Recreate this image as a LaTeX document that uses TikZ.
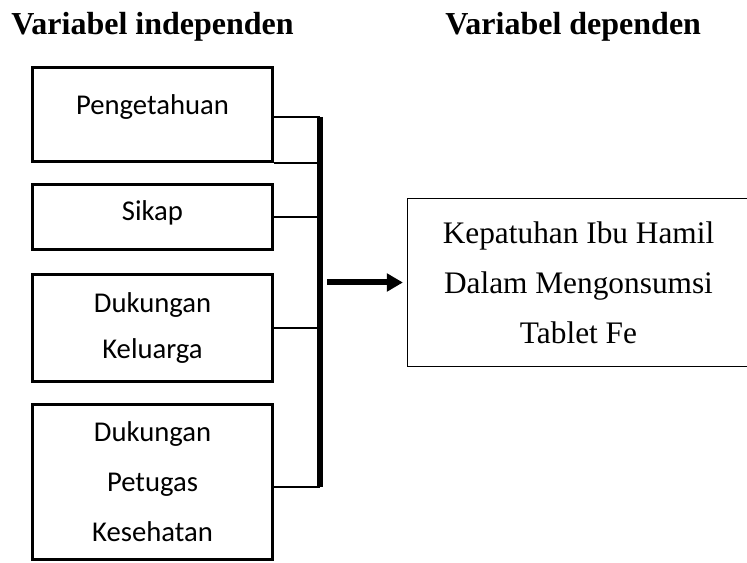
\documentclass[tikz,border=0pt]{standalone}
\usepackage{fontspec}
\setmainfont{Liberation Serif}
\newfontfamily\calibri{Carlito}
\usetikzlibrary{arrows.meta}
\begin{document}
\begin{tikzpicture}[x=0.75pt,y=-0.75pt,
 varbox/.style={draw,line width=2.5pt,inner sep=0pt,minimum width=180pt,align=center,font=\calibri\fontsize{21.5}{37.5}\selectfont},
 depbox/.style={draw,line width=0.9pt,inner sep=0pt,minimum width=256.5pt,minimum height=126pt,align=center,font=\fontsize{23.5}{37.5}\selectfont},
 judul/.style={inner sep=0pt,anchor=base west,font=\fontsize{24}{28}\selectfont\bfseries},
 conn/.style={line width=1pt},
 bar/.style={line width=5pt},
 panah/.style={line width=4.5pt,-{Triangle[length=12pt,width=13pt]},shorten <=5.25pt,shorten >=3pt}]
 \useasboundingbox (0,0) rectangle (747,563);
 \node[judul] (indep) at (11,35) {Variabel independen};
 \node[judul] (dep) at (445,35) {Variabel dependen};
 \node[varbox,minimum height=70.5pt,text height=14pt,text depth=14pt] (pengetahuan) at (152.5,114.5) {Pengetahuan};
 \node[varbox,minimum height=48.75pt,text height=15pt,text depth=9pt] (sikap) at (152.5,217) {Sikap};
 \node[varbox,minimum height=80.25pt] (keluarga) at (152.5,328) {Dukungan\\[-2.5pt]Keluarga};
 \node[varbox,minimum height=116.25pt] (petugas) at (152.5,482) {Dukungan\\Petugas\\Kesehatan};
 \node[depbox] (kepatuhan) at (578.5,282.5) {Kepatuhan Ibu Hamil\\Dalam Mengonsumsi\\Tablet Fe};
 \coordinate (bartop) at (320,117);
 \coordinate (barbot) at (320,487);
 \draw[bar] (bartop)--(barbot);
 \draw[conn] (pengetahuan.east |- bartop)--(bartop);
 \draw[conn] (pengetahuan.south east)--(pengetahuan.south east -| bartop);
 \foreach\n in{sikap,keluarga}{\draw[conn] (\n.east)--(\n.east -| bartop);}
 \draw[conn] (petugas.east |- barbot)--(barbot);
 \draw[panah] (kepatuhan.west -| bartop)--(kepatuhan.west);
\end{tikzpicture}
\end{document}
